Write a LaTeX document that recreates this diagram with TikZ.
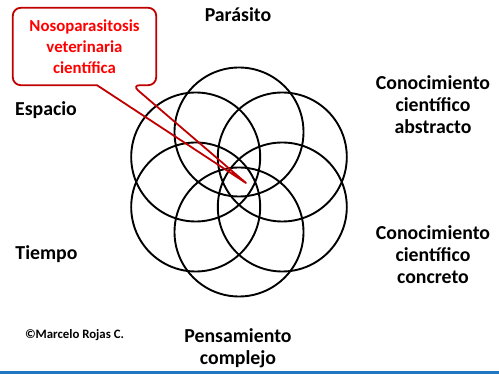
\documentclass[tikz,border=0pt]{standalone}
\usepackage{fontspec}
\setmainfont{Carlito}
\usepackage{xcolor}
\usetikzlibrary{calc}
\definecolor{calloutred}{HTML}{C00000}
\definecolor{textred}{HTML}{FF0000}
\definecolor{barblue}{HTML}{1F78C1}

\begin{document}
\begin{tikzpicture}[x=1pt, y=-1pt,
    ring/.style={draw=black, line width=1.9pt},
    label/.style={font=\fontsize{19.8}{22}\selectfont\bfseries, align=center, inner sep=0pt},
    bubble/.style={font=\fontsize{16.8}{21}\selectfont\bfseries, text=textred, align=center,
        inner sep=0pt, minimum width=143pt, minimum height=77pt},
    callline/.style={draw=calloutred, line width=1.8pt, line join=round}]
    \useasboundingbox (0,0) rectangle (499,374);

    % Draw rings
    \coordinate (ctr) at (239,182);
    \foreach \a in {30,90,...,330}
        \draw[ring] ($(ctr)+(\a:50)$) circle[radius=64.5];

    % Labels
    \node[label] (parasito) at (238,15) {Parásito};
    \node[label] (espacio) at (46,110) {Espacio};
    \node[label] (tiempo) at (46.5,254) {Tiempo};
    \node[label] (abstracto) at (433,105) {Conocimiento\\científico\\abstracto};
    \node[label] (concreto) at (433,255) {Conocimiento\\científico\\concreto};
    \node[label] (complejo) at (238,348) {Pensamiento\\complejo};
    \node[font=\fontsize{12.8}{14}\selectfont\bfseries, inner sep=0pt] (autor) at (74.5,335) {©Marcelo Rojas C.};

    % Callout
    \node[bubble] (callout) at (84.5,46.5) {Nosoparasitosis\\veterinaria\\científica};
    \coordinate (tip) at (246,183);
    \draw[callline, rounded corners=8pt] (callout.south west) -- (callout.north west) -- (callout.north east)
        -- (callout.south east) -- ($(callout.south)+(47.5,0)$) [sharp corners] -- (tip)
        -- ($(callout.south)+(12.5,0)$) [rounded corners=8pt] -- cycle;

    % Bottom bar
    \fill[barblue] (0,371.2) rectangle (499,374);
\end{tikzpicture}
\end{document}
